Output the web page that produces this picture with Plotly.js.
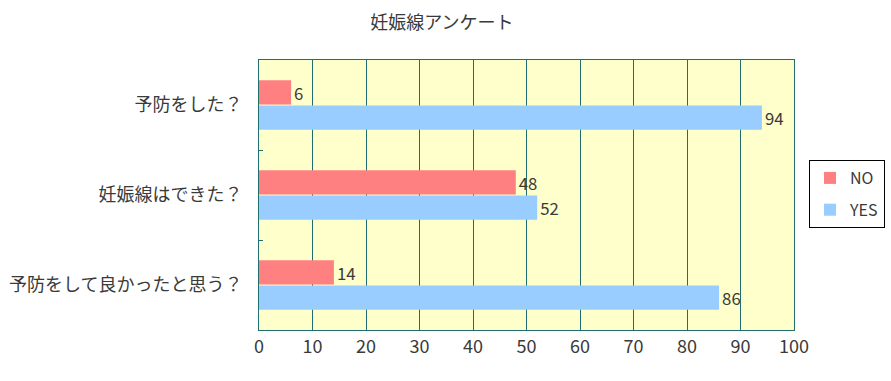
<!DOCTYPE html>
<html>
<head>
<meta charset="utf-8">
<script src="https://cdn.plot.ly/plotly-3.0.1.min.js"></script>
<style>html,body{margin:0;padding:0;background:#fff;}#chart{width:891px;height:381px;}</style>
</head>
<body>
<div id="chart"></div>
<script>
const categories = ["予防をした？", "妊娠線はできた？", "予防をして良かったと思う？"];
const noValues = [6, 48, 14];
const yesValues = [94, 52, 86];
const xTicks = [0, 10, 20, 30, 40, 50, 60, 70, 80, 90, 100];

const font = "'Noto Sans CJK JP', 'Noto Sans', sans-serif";
const axisColor = "#1f6f6f";
const textColor = "#3a3a3a";

const traces = [
  {type: "bar", orientation: "h", name: "NO", legendgroup: "no", y: categories, x: noValues,
   marker: {color: "#ff8080"}, text: noValues.map(String), textposition: "outside",
   textfont: {size: 18, color: textColor}, cliponaxis: false},
  {type: "bar", orientation: "h", name: "YES", legendgroup: "yes", y: categories, x: yesValues,
   marker: {color: "#99ccff"}, text: yesValues.map(String), textposition: "outside",
   textfont: {size: 18, color: textColor}, cliponaxis: false}
];

const layout = {
  width: 891, height: 381,
  margin: {l: 259, r: 97, t: 60, b: 51},
  paper_bgcolor: "#ffffff",
  plot_bgcolor: "#ffffcc",
  font: {family: font, color: textColor},
  title: {text: "妊娠線アンケート", font: {size: 18, color: textColor}, x: 0.496, xanchor: "center", y: 0.94, yanchor: "middle"},
  barmode: "group",
  bargap: 0.44,
  bargroupgap: 0.04,
  showlegend: true,
  legend: {xref: "container", yref: "container", x: 885 / 891, xanchor: "right", y: 1 - 160 / 381, yanchor: "top",
           bordercolor: "#000", borderwidth: 1, bgcolor: "#fff", font: {size: 16, color: textColor},
           traceorder: "grouped", itemwidth: 30, tracegroupgap: 8},
  xaxis: {range: [0, 100], tickvals: xTicks, ticktext: xTicks.map(String), showgrid: true, gridcolor: axisColor,
          gridwidth: 1, zeroline: false, showline: true, linecolor: axisColor, mirror: true, ticks: "",
          tickfont: {size: 18, color: textColor}, automargin: false, fixedrange: true},
  yaxis: {type: "category", autorange: "reversed", showgrid: false, showline: true, linecolor: axisColor, mirror: true,
          ticks: "inside", tickson: "boundaries", ticklen: 4, tickcolor: axisColor, automargin: false,
          tickfont: {size: 18, color: textColor}, ticklabelstandoff: 12, fixedrange: true}
};

Plotly.newPlot("chart", traces, layout, {displayModeBar: false, staticPlot: true});
</script>
</body>
</html>
